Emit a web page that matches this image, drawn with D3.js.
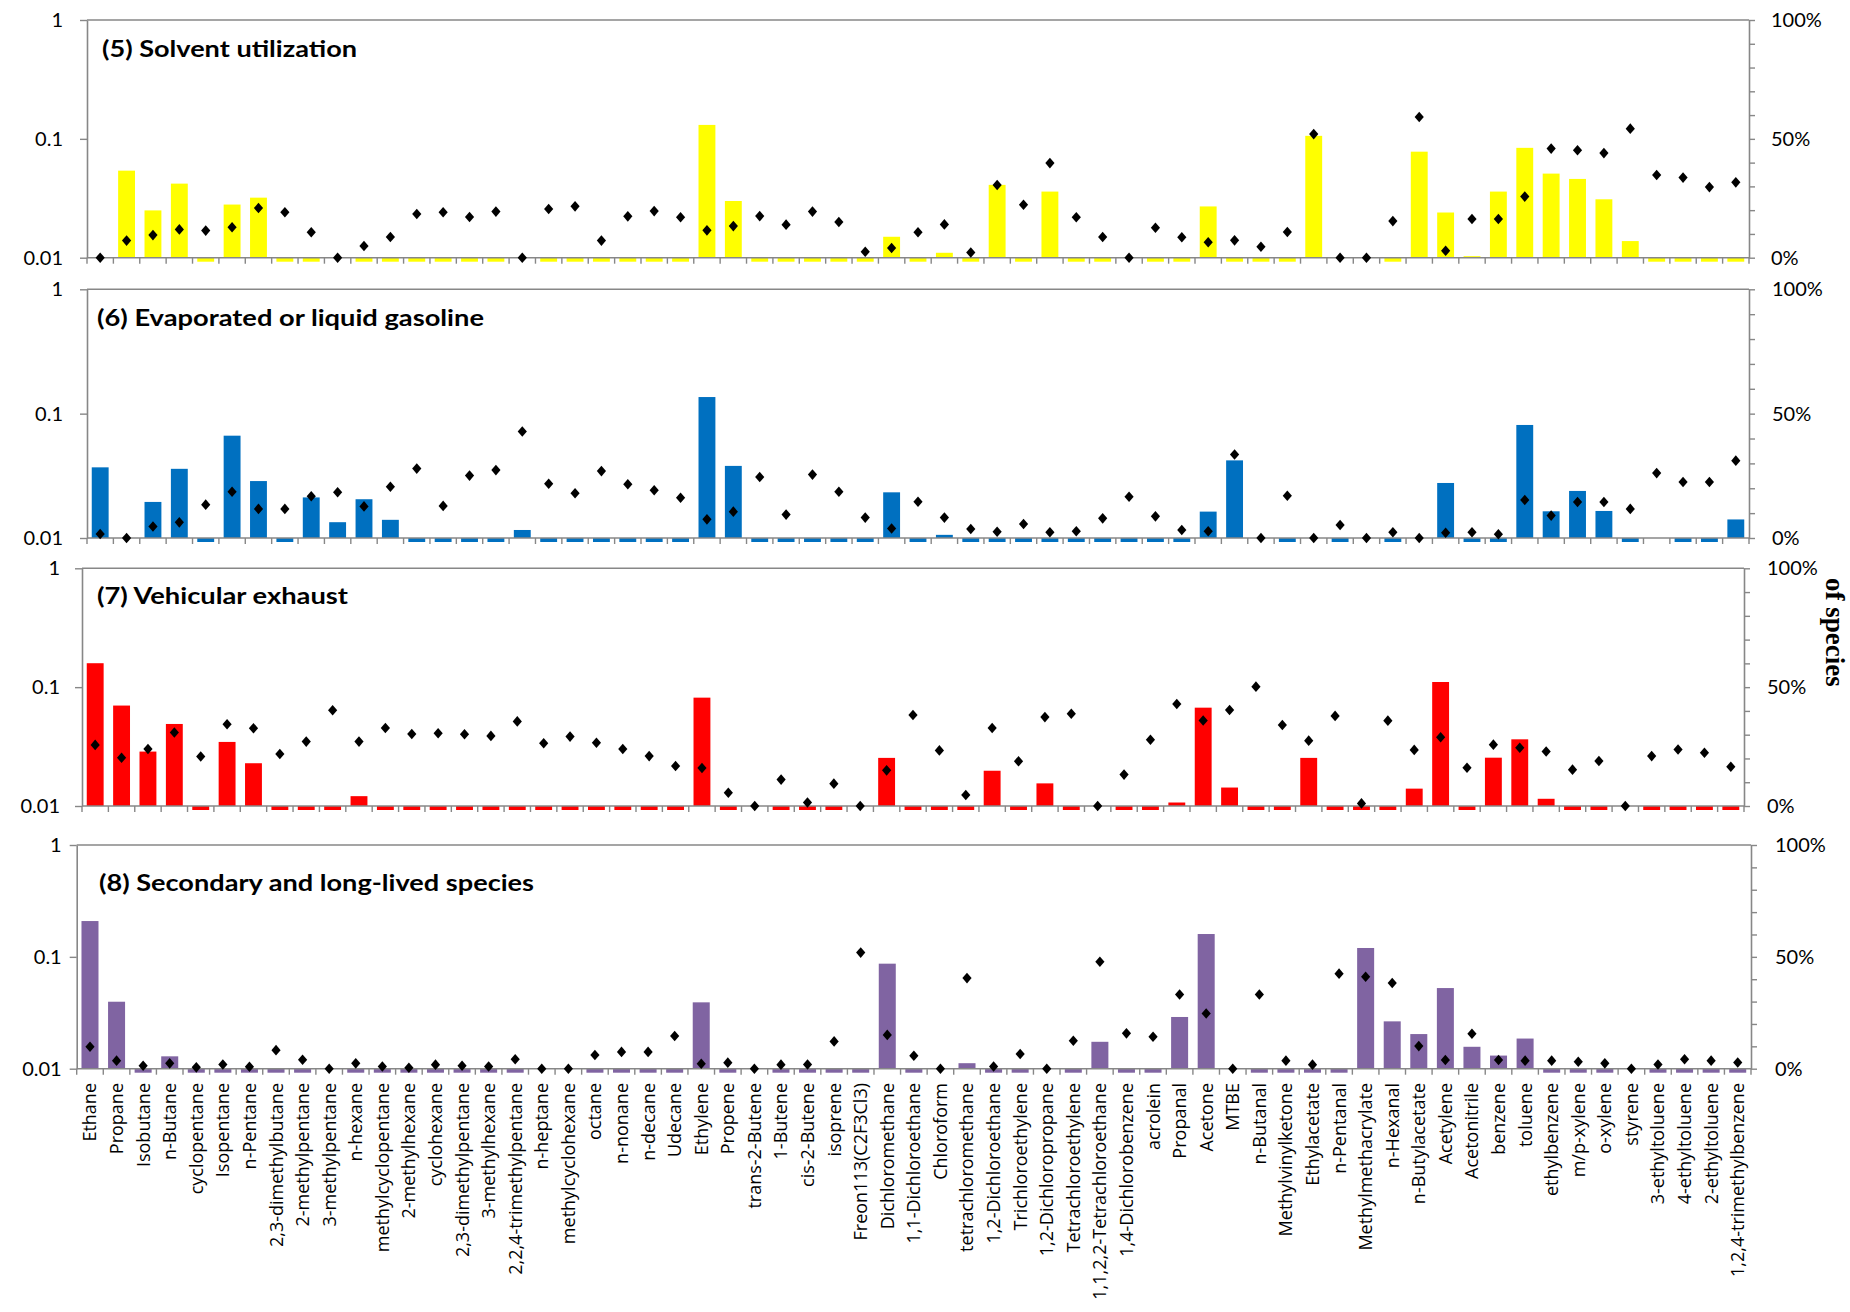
<!DOCTYPE html>
<html>
<head>
<meta charset="utf-8">
<script src="https://cdn.jsdelivr.net/npm/d3@7"></script>
<style>
  body { margin: 0; background: #fff; }
  svg { display: block; }
</style>
</head>
<body>
<svg id="chart" width="1850" height="1312"></svg>
<script>
// VOC species, in the order they appear along the x axis
const categories = [
  "Ethane","Propane","Isobutane","n-Butane","cyclopentane","Isopentane","n-Pentane",
  "2,3-dimethylbutane","2-methylpentane","3-methylpentane","n-hexane","methylcyclopentane",
  "2-methylhexane","cyclohexane","2,3-dimethylpentane","3-methylhexane","2,2,4-trimethylpentane",
  "n-heptane","methylcyclohexane","octane","n-nonane","n-decane","Udecane","Ethylene","Propene",
  "trans-2-Butene","1-Butene","cis-2-Butene","isoprene","Freon113(C2F3Cl3)","Dichloromethane",
  "1,1-Dichloroethane","Chloroform","tetrachloromethane","1,2-Dichloroethane","Trichloroethylene",
  "1,2-Dichloropropane","Tetrachloroethylene","1,1,2,2-Tetrachloroethane","1,4-Dichlorobenzene",
  "acrolein","Propanal","Acetone","MTBE","n-Butanal","Methylvinylketone","Ethylacetate",
  "n-Pentanal","Methylmethacrylate","n-Hexanal","n-Butylacetate","Acetylene","Acetonitrile",
  "benzene","toluene","ethylbenzene","m/p-xylene","o-xylene","styrene","3-ethyltoluene",
  "4-ethyltoluene","2-ethyltoluene","1,2,4-trimethylbenzene"
];

// Factor profiles (fraction of factor mass, log axis) and share of each species (%)
const solventShare = [
  0, 0.054, 0.025, 0.042, 0.005, 0.028, 0.032, 0.005, 0.005, 0,
  0.005, 0.005, 0.005, 0.005, 0.005, 0.005, 0, 0.005, 0.005, 0.005,
  0.005, 0.005, 0.005, 0.131, 0.030, 0.005, 0.005, 0.005, 0.005, 0.005,
  0.015, 0.005, 0.011, 0.005, 0.041, 0.005, 0.036, 0.005, 0.005, 0,
  0.005, 0.005, 0.027, 0.005, 0.005, 0.005, 0.106, 0, 0, 0.005,
  0.078, 0.024, 0.0103, 0.036, 0.084, 0.051, 0.046, 0.031, 0.0138, 0.005,
  0.005, 0.005, 0.005
];
const solventPct = [
  0, 7.2, 9.5, 11.9, 11.4, 12.8, 20.9, 19.1, 10.7, 0,
  4.9, 8.7, 18.4, 19.1, 17.1, 19.4, 0, 20.5, 21.6, 7.2,
  17.4, 19.6, 17.0, 11.5, 13.3, 17.5, 13.9, 19.4, 15.0, 2.5,
  4.1, 10.7, 14.0, 2.2, 30.6, 22.3, 39.8, 17.0, 8.7, 0,
  12.6, 8.6, 6.5, 7.3, 4.6, 10.8, 52.0, 0, 0, 15.4,
  59.2, 2.9, 16.3, 16.3, 25.7, 45.9, 45.2, 44.0, 54.3, 34.8,
  33.7, 29.7, 31.7
];

const gasolineShare = [
  0.037, 0, 0.0195, 0.036, 0.005, 0.0665, 0.0287, 0.005, 0.0212, 0.0134,
  0.0205, 0.014, 0.005, 0.005, 0.005, 0.005, 0.0116, 0.005, 0.005, 0.005,
  0.005, 0.005, 0.005, 0.136, 0.038, 0.005, 0.005, 0.005, 0.005, 0.005,
  0.0233, 0.005, 0.0106, 0.005, 0.005, 0.005, 0.005, 0.005, 0.005, 0.005,
  0.005, 0.005, 0.0163, 0.0421, 0, 0.005, 0, 0.005, 0, 0.005,
  0, 0.0277, 0.005, 0.005, 0.0811, 0.0164, 0.0239, 0.0165, 0.005, 0,
  0.005, 0.005, 0.0141
];
const gasolinePct = [
  1.6, 0, 4.6, 6.3, 13.4, 18.6, 11.7, 11.7, 16.8, 18.4,
  12.7, 20.6, 27.9, 12.9, 25.1, 27.3, 42.8, 21.8, 18.0, 26.9,
  21.6, 19.2, 16.2, 7.5, 10.6, 24.5, 9.4, 25.5, 18.6, 8.2,
  3.8, 14.6, 8.2, 3.6, 2.5, 5.6, 2.3, 2.7, 7.9, 16.6,
  8.7, 3.2, 2.7, 33.6, 0, 17.0, 0, 5.2, 0, 2.3,
  0, 2.1, 2.3, 1.5, 15.3, 9.0, 14.5, 14.5, 11.7, 26.1,
  22.5, 22.5, 31.1
];

const exhaustShare = [
  0.159, 0.070, 0.0287, 0.049, 0.005, 0.0346, 0.0229, 0.005, 0.005, 0.005,
  0.0121, 0.005, 0.005, 0.005, 0.005, 0.005, 0.005, 0.005, 0.005, 0.005,
  0.005, 0.005, 0.005, 0.0816, 0.005, 0, 0.005, 0.005, 0.005, 0,
  0.0254, 0.005, 0.005, 0.005, 0.0198, 0.005, 0.0155, 0.005, 0, 0.005,
  0.005, 0.0107, 0.0672, 0.0143, 0.005, 0.005, 0.0254, 0.005, 0.005, 0.005,
  0.014, 0.1105, 0.005, 0.0255, 0.0364, 0.0115, 0.005, 0.005, 0, 0.005,
  0.005, 0.005, 0.005
];
const exhaustPct = [
  25.7, 20.3, 24.0, 30.9, 20.8, 34.4, 32.7, 21.9, 27.1, 40.3,
  27.1, 32.8, 30.3, 30.6, 30.2, 29.5, 35.6, 26.4, 29.2, 26.6,
  24.0, 21.0, 16.8, 16.0, 5.6, 0, 11.1, 1.5, 9.4, 0,
  15.0, 38.3, 23.4, 4.6, 32.8, 18.8, 37.4, 38.8, 0, 13.2,
  27.9, 42.9, 36.0, 40.4, 50.2, 34.1, 27.5, 37.9, 1.1, 35.9,
  23.6, 28.9, 16.1, 25.8, 24.5, 22.9, 15.3, 18.9, 0, 21.0,
  23.8, 22.4, 16.5
];

const secondaryShare = [
  0.209, 0.0397, 0.005, 0.0129, 0.005, 0.005, 0.005, 0.005, 0.005, 0,
  0.005, 0.005, 0.005, 0.005, 0.005, 0.005, 0.005, 0, 0, 0.005,
  0.005, 0.005, 0.005, 0.0392, 0.005, 0, 0.005, 0.005, 0.005, 0.005,
  0.0869, 0.005, 0, 0.0112, 0.005, 0.005, 0, 0.005, 0.0174, 0.005,
  0.005, 0.029, 0.160, 0, 0.005, 0.005, 0.005, 0.005, 0.120, 0.0265,
  0.0204, 0.0526, 0.0157, 0.0131, 0.0186, 0.005, 0.005, 0.005, 0, 0.005,
  0.005, 0.005, 0.005
];
const secondaryPct = [
  9.8, 3.6, 1.3, 2.4, 0.6, 1.9, 0.9, 8.3, 4.0, 0,
  2.4, 1.0, 0.4, 1.8, 1.3, 1.0, 4.2, 0, 0, 6.1,
  7.5, 7.5, 14.6, 2.2, 2.7, 0, 1.8, 1.9, 12.2, 51.9,
  15.1, 5.8, 0, 40.5, 1.0, 6.6, 0, 12.5, 47.8, 15.8,
  14.3, 33.2, 24.7, 0, 33.2, 3.6, 1.8, 42.5, 41.1, 38.3,
  10.1, 3.9, 15.6, 3.9, 3.6, 3.6, 3.1, 2.4, 0, 1.9,
  4.2, 3.6, 2.8
];

// Axis ticks
const shareTicks = [0.01, 0.1, 1];
const pctTicks = [0, 10, 20, 30, 40, 50, 60, 70, 80, 90, 100];
const pctTickLabels = { 0: "0%", 50: "50%", 100: "100%" };

const panels = [
  { title: "(5) Solvent utilization",              color: "#FFFF00", share: solventShare,   pct: solventPct },
  { title: "(6) Evaporated or liquid gasoline",    color: "#0070C0", share: gasolineShare,  pct: gasolinePct },
  { title: "(7) Vehicular exhaust",                color: "#FF0000", share: exhaustShare,   pct: exhaustPct },
  { title: "(8) Secondary and long-lived species", color: "#8064A2", share: secondaryShare, pct: secondaryPct }
];

// Plot frames of the four stacked panels
const frames = [
  { left: 87,   right: 1749, top: 20,    bottom: 257.7,  titleX: 102, titleY: 56.5,  titleW: 255, padL: 17, padR: 16 },
  { left: 87,   right: 1749, top: 289.3, bottom: 538,    titleX: 97,  titleY: 326.3, titleW: 387, padL: 17, padR: 17 },
  { left: 82,   right: 1744, top: 568.3, bottom: 806,    titleX: 97,  titleY: 604.3, titleW: 251, padL: 15, padR: 17 },
  { left: 76.7, right: 1751, top: 845,   bottom: 1068.7, titleX: 99,  titleY: 890.7, titleW: 435, padL: 8,  padR: 18 }
];

const AXIS = "#878787";
const TICK_FONT = "Lato, 'Open Sans', sans-serif";
const svg = d3.select("#chart");
svg.append("rect").attr("width", 1850).attr("height", 1312).attr("fill", "#fff");

const diamond = "M0,-5.3L4.6,0L0,5.3L-4.6,0Z";

function styleAxis(g) {
  g.select(".domain").attr("stroke", AXIS).attr("stroke-width", 1.6);
  g.selectAll(".tick line").attr("stroke", AXIS).attr("stroke-width", 1.4);
  g.selectAll(".tick text")
    .attr("fill", "#000")
    .style("font-family", TICK_FONT)
    .style("font-size", "20px");
}

panels.forEach((p, k) => {
  const f = frames[k];
  const x = d3.scaleBand().domain(categories).range([f.left, f.right])
    .paddingInner(0.36).paddingOuter(0.18);
  const y = d3.scaleLog().domain([0.01, 1]).range([f.bottom, f.top]);
  const yp = d3.scaleLinear().domain([0, 100]).range([f.bottom, f.top]);

  const rows = categories.map((c, i) => ({ c, v: p.share[i], q: p.pct[i] }));
  const g = svg.append("g").attr("class", "panel");

  // bars reaching into the log range
  g.append("g").selectAll("rect")
    .data(rows.filter(d => d.v >= 0.01))
    .join("rect")
    .attr("x", d => x(d.c))
    .attr("width", x.bandwidth())
    .attr("y", d => y(d.v))
    .attr("height", d => y(0.01) - y(d.v))
    .attr("fill", p.color);

  // values below the axis minimum show as a short stub under the baseline
  g.append("g").selectAll("rect")
    .data(rows.filter(d => d.v > 0 && d.v < 0.01))
    .join("rect")
    .attr("x", d => x(d.c))
    .attr("width", x.bandwidth())
    .attr("y", y(0.01))
    .attr("height", 4)
    .attr("fill", p.color);

  // top border of the plot area
  g.append("line")
    .attr("x1", f.left).attr("x2", f.right)
    .attr("y1", f.top).attr("y2", f.top)
    .attr("stroke", AXIS).attr("stroke-width", 1.6);

  // category axis: baseline with ticks between categories
  g.append("line")
    .attr("x1", f.left).attr("x2", f.right)
    .attr("y1", f.bottom).attr("y2", f.bottom)
    .attr("stroke", AXIS).attr("stroke-width", 1.6);
  g.append("g").selectAll("line")
    .data(d3.range(categories.length + 1))
    .join("line")
    .attr("x1", i => f.left + i * x.step())
    .attr("x2", i => f.left + i * x.step())
    .attr("y1", f.bottom).attr("y2", f.bottom + 6)
    .attr("stroke", AXIS).attr("stroke-width", 1.4);

  // left log axis
  g.append("g")
    .attr("transform", `translate(${f.left},0)`)
    .call(d3.axisLeft(y).tickValues(shareTicks).tickFormat(d => String(d))
      .tickSize(7).tickSizeOuter(0).tickPadding(f.padL))
    .call(styleAxis);

  // right percentage axis
  g.append("g")
    .attr("transform", `translate(${f.right},0)`)
    .call(d3.axisRight(yp).tickValues(pctTicks).tickFormat(d => pctTickLabels[d] || "")
      .tickSize(6).tickSizeOuter(0).tickPadding(f.padR))
    .call(styleAxis);

  // species share markers
  g.append("g").selectAll("path")
    .data(rows)
    .join("path")
    .attr("d", diamond)
    .attr("transform", d => `translate(${x(d.c) + x.bandwidth() / 2},${yp(d.q)})`)
    .attr("fill", "#000");

  // panel title
  g.append("text")
    .attr("x", f.titleX).attr("y", f.titleY)
    .attr("textLength", f.titleW)
    .attr("lengthAdjust", "spacingAndGlyphs")
    .style("font-family", "Lato, 'Open Sans', sans-serif")
    .style("font-weight", "bold")
    .style("font-size", "23px")
    .attr("fill", "#000")
    .text(p.title);

  // species names under the bottom panel
  if (k === panels.length - 1) {
    g.append("g").selectAll("text")
      .data(categories)
      .join("text")
      .attr("transform", c => `translate(${x(c) + x.bandwidth() / 2},${f.bottom + 14.3}) rotate(-90)`)
      .attr("text-anchor", "end")
      .attr("dy", "0.36em")
      .style("font-family", "'Open Sans', sans-serif")
      .style("font-size", "18px")
      .attr("fill", "#000")
      .text(c => c);
  }
});

// secondary axis caption
svg.append("text")
  .attr("transform", "translate(1835,578) rotate(90)")
  .attr("text-anchor", "start")
  .attr("dy", "0.35em")
  .style("font-family", "'Liberation Serif', 'Times New Roman', serif")
  .style("font-weight", "bold")
  .style("font-size", "27px")
  .attr("fill", "#000")
  .text("of species");
</script>
</body>
</html>
